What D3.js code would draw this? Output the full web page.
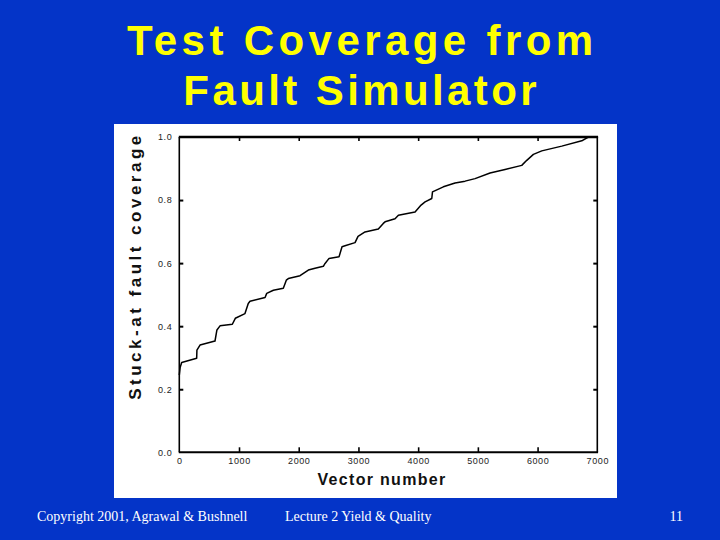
<!DOCTYPE html>
<html>
<head>
<meta charset="utf-8">
<script src="https://cdn.jsdelivr.net/npm/d3@7"></script>
<style>
  html, body { margin: 0; padding: 0; background: #0434c8; }
  svg { display: block; }
</style>
</head>
<body>
<svg id="chart" width="720" height="540"></svg>
<script>
// ---- data ----
const vectorNumber = [0, 15, 40, 291, 295, 347, 598, 630, 682, 888, 938, 1100, 1155, 1184, 1436, 1464, 1575, 1742, 1792, 1826, 2022, 2161, 2273, 2412, 2441, 2508, 2675, 2725, 2775, 2943, 2993, 3110, 3333, 3416, 3446, 3613, 3669, 3948, 4049, 4116, 4228, 4240, 4422, 4618, 4786, 4953, 5204, 5455, 5735, 5819, 5930, 6070, 6405, 6740, 6851];
const coverage = [0.245, 0.270, 0.285, 0.298, 0.324, 0.340, 0.353, 0.388, 0.401, 0.406, 0.425, 0.440, 0.472, 0.479, 0.491, 0.504, 0.514, 0.520, 0.546, 0.551, 0.560, 0.578, 0.584, 0.590, 0.599, 0.615, 0.620, 0.652, 0.655, 0.665, 0.685, 0.699, 0.708, 0.726, 0.731, 0.741, 0.752, 0.762, 0.784, 0.794, 0.805, 0.826, 0.842, 0.854, 0.860, 0.868, 0.886, 0.897, 0.910, 0.926, 0.945, 0.956, 0.971, 0.988, 1.000];
const xTicks = [0, 1000, 2000, 3000, 4000, 5000, 6000, 7000];
const yTicks = [0.0, 0.2, 0.4, 0.6, 0.8, 1.0];
const titleLines = ["Test Coverage from", "Fault Simulator"];
const xLabel = "Vector number";
const yLabel = "Stuck-at fault coverage";
const footer = ["Copyright 2001, Agrawal & Bushnell", "Lecture 2 Yield & Quality", "11"];

// ---- layout ----
const svg = d3.select("#chart");
const plot = { left: 179.3, right: 597.3, top: 137, bottom: 452.3 };

svg.append("rect").attr("x", 0).attr("y", 0).attr("width", 720).attr("height", 540).attr("fill", "#0434c8");

// title
const titleSpacing = [4.4, 3.4];
const title = svg.append("g")
  .attr("font-family", "Arial, 'Liberation Sans', sans-serif")
  .attr("font-weight", "bold").attr("font-size", 42).attr("fill", "#ffff00")
  .attr("text-anchor", "middle");
title.selectAll("text").data(titleLines).join("text")
  .attr("x", (d, i) => 360 + titleSpacing[i] / 2)
  .attr("y", (d, i) => 55 + i * 50)
  .attr("letter-spacing", (d, i) => titleSpacing[i])
  .text(d => d);

// white panel
svg.append("rect").attr("x", 114).attr("y", 124).attr("width", 503).attr("height", 374).attr("fill", "#ffffff");

const x = d3.scaleLinear().domain([0, 7000]).range([plot.left, plot.right]);
const y = d3.scaleLinear().domain([0, 1]).range([plot.bottom, plot.top]);

const fmtY = d3.format(".1f");
const tickFont = g => g.selectAll("text")
  .attr("font-family", "Arial, 'Liberation Sans', sans-serif")
  .attr("font-size", 9).attr("fill", "#222").attr("letter-spacing", 0.6);

// bottom axis (ticks inward)
const gx = svg.append("g").attr("transform", `translate(0,${plot.bottom})`)
  .call(d3.axisBottom(x).tickValues(xTicks).tickFormat(d3.format("d")).tickSizeInner(-5).tickSizeOuter(0).tickPadding(7));
gx.select(".domain").remove();
gx.selectAll("line").attr("stroke", "#000").attr("stroke-width", 1.6);
gx.selectAll(".tick").filter(d => d === 0 || d === 7000).select("line").remove();
gx.call(tickFont);
gx.selectAll("text").attr("dy", "0.5em");

// left axis (ticks inward)
const gy = svg.append("g").attr("transform", `translate(${plot.left},0)`)
  .call(d3.axisLeft(y).tickValues(yTicks).tickFormat(fmtY).tickSizeInner(-4).tickSizeOuter(0).tickPadding(7));
gy.select(".domain").remove();
gy.selectAll("line").attr("stroke", "#000").attr("stroke-width", 2);
gy.selectAll(".tick").filter(d => d === 0 || d === 1).select("line").remove();
gy.call(tickFont);

// top axis ticks (no labels)
const gt = svg.append("g").attr("transform", `translate(0,${plot.top})`)
  .call(d3.axisTop(x).tickValues(xTicks.filter(d => d > 0 && d < 7000)).tickFormat("").tickSizeInner(-4).tickSizeOuter(0));
gt.select(".domain").remove();
gt.selectAll("line").attr("stroke", "#000").attr("stroke-width", 1.6);

// right axis ticks (no labels)
const gr = svg.append("g").attr("transform", `translate(${plot.right},0)`)
  .call(d3.axisRight(y).tickValues(yTicks.filter(d => d > 0 && d < 1)).tickFormat("").tickSizeInner(-4).tickSizeOuter(0));
gr.select(".domain").remove();
gr.selectAll("line").attr("stroke", "#000").attr("stroke-width", 2);

// frame
svg.append("line").attr("x1", plot.left - 0.5).attr("x2", plot.right + 0.8).attr("y1", plot.top).attr("y2", plot.top).attr("stroke", "#000").attr("stroke-width", 2.5);
svg.append("line").attr("x1", plot.left - 0.5).attr("x2", plot.right + 0.8).attr("y1", plot.bottom).attr("y2", plot.bottom).attr("stroke", "#000").attr("stroke-width", 2);
svg.append("line").attr("x1", plot.left).attr("x2", plot.left).attr("y1", plot.top).attr("y2", plot.bottom).attr("stroke", "#000").attr("stroke-width", 1.6);
svg.append("line").attr("x1", plot.right).attr("x2", plot.right).attr("y1", plot.top).attr("y2", plot.bottom).attr("stroke", "#000").attr("stroke-width", 1.6);

// curve
const pts = vectorNumber.map((v, i) => [v, coverage[i]]);
svg.append("path").datum(pts)
  .attr("fill", "none").attr("stroke", "#000").attr("stroke-width", 1.5)
  .attr("stroke-linejoin", "round")
  .attr("d", d3.line().x(d => x(d[0])).y(d => y(d[1])).curve(d3.curveLinear));

// axis labels
svg.append("text").attr("x", 382).attr("y", 485).attr("text-anchor", "middle")
  .attr("font-family", "Arial, 'Liberation Sans', sans-serif").attr("font-weight", "bold")
  .attr("font-size", 16).attr("letter-spacing", 1.3).attr("fill", "#111").text(xLabel);
svg.append("text").attr("transform", "translate(141,266) rotate(-90)").attr("text-anchor", "middle")
  .attr("font-family", "Arial, 'Liberation Sans', sans-serif").attr("font-weight", "bold")
  .attr("font-size", 17).attr("letter-spacing", 3.5).attr("fill", "#111").text(yLabel);

// footer
const ff = svg.append("g").attr("font-family", "'Times New Roman', 'Liberation Serif', serif")
  .attr("font-size", 14).attr("fill", "#ffffff");
ff.append("text").attr("x", 37).attr("y", 521).text(footer[0]);
ff.append("text").attr("x", 285).attr("y", 521).text(footer[1]);
ff.append("text").attr("x", 683).attr("y", 521).attr("text-anchor", "end").text(footer[2]);
</script>
</body>
</html>
